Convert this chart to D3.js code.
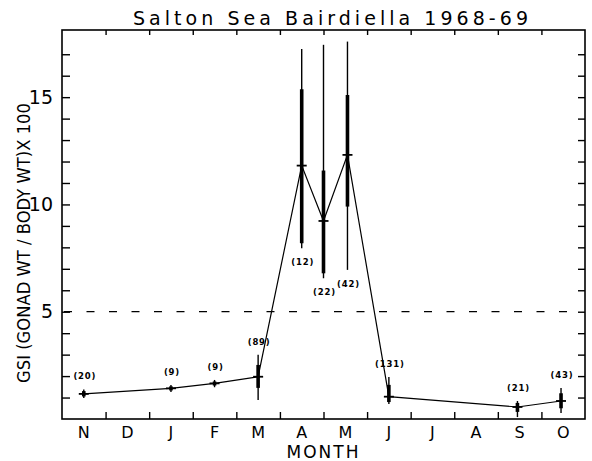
<!DOCTYPE html>
<html><head><meta charset="utf-8">
<script src="https://cdn.jsdelivr.net/npm/d3@7"></script>
<style>
html,body{margin:0;padding:0;background:#fff;}
svg{display:block;font-family:"DejaVu Sans",sans-serif;}
</style></head>
<body><svg id="c" width="592" height="461"></svg>
<script>
// ---- data ----
const months = ["N","D","J","F","M","A","M","J","J","A","S","O"];
const yTickLabels = [5, 10, 15];
const samplePos = [0.5, 2.5, 3.5, 4.5, 5.5, 6.0, 6.55, 7.5, 10.45, 11.45]; // months from 1 Nov
const sampleN  = [20, 9, 9, 89, 12, 22, 42, 131, 21, 43];
const gsiMean  = [1.17, 1.43, 1.66, 1.97, 11.81, 9.23, 12.31, 1.04, 0.56, 0.84];
const rangeLo  = [0.98, 1.26, 1.48, 0.89, 7.96, 6.56, 6.95, 0.70, 0.09, 0.28];
const rangeHi  = [1.38, 1.59, 1.82, 3.00, 17.24, 17.44, 17.59, 1.96, 0.84, 1.45];
const sdLo     = [1.05, 1.33, 1.56, 1.45, 8.19, 6.79, 9.90, 0.79, 0.33, 0.50];
const sdHi     = [1.30, 1.52, 1.75, 2.52, 15.37, 11.58, 15.10, 1.59, 0.75, 1.20];
const spawnLevel = 5;
const yMax = 18.13;

const pts = samplePos.map((p,i)=>({p, n:sampleN[i], m:gsiMean[i], rl:rangeLo[i], rh:rangeHi[i], sl:sdLo[i], sh:sdHi[i]}));

const L=62, R=585, T=30, B=419;
const svg = d3.select("#c");
const x = d3.scaleLinear().domain([0,12]).range([L,R]);
const xb = d3.scaleBand().domain(d3.range(12)).range([L,R]);
const y = d3.scaleLinear().domain([0,yMax]).range([B,T]);

// title
svg.append("text").attr("x",133).attr("y",25).attr("font-size",19)
  .attr("textLength",395).attr("lengthAdjust","spacing")
  .text("Salton Sea Bairdiella  1968-69");

// axes ticks
const gB = svg.append("g").attr("transform",`translate(0,${B})`)
  .call(d3.axisBottom(x).tickValues(d3.range(1,12)).tickSize(-7).tickFormat(""));
const gT = svg.append("g").attr("transform",`translate(0,${T})`)
  .call(d3.axisTop(x).tickValues(d3.range(1,12)).tickSize(-5).tickFormat(""));
const gL = svg.append("g").attr("transform",`translate(${L},0)`)
  .call(d3.axisLeft(y).tickValues(d3.range(1,18)).tickSize(-8).tickPadding(9)
    .tickFormat(d=>yTickLabels.includes(d)?d:""));
const gR = svg.append("g").attr("transform",`translate(${R},0)`)
  .call(d3.axisRight(y).tickValues(d3.range(1,18)).tickSize(-7).tickFormat(""));
const gM = svg.append("g").attr("transform",`translate(0,${B})`)
  .call(d3.axisBottom(xb).tickSize(0).tickPadding(8).tickFormat(i=>months[i]));
[gB,gT,gL,gR,gM].forEach(g=>{
  g.select(".domain").remove();
  g.selectAll(".tick line").attr("stroke","#000").attr("stroke-width",1.4);
  g.selectAll("text").attr("fill","#000").attr("font-family","DejaVu Sans, sans-serif");
});
gL.selectAll("text").attr("font-size",19);
gM.selectAll("text").attr("font-size",16).attr("dy","0.71em");

// frame
svg.append("rect").attr("x",L).attr("y",T).attr("width",R-L).attr("height",B-T)
  .attr("fill","none").attr("stroke","#000").attr("stroke-width",1.6);

// axis titles
svg.append("text").attr("x",323.5).attr("y",458).attr("text-anchor","middle")
  .attr("font-size",17).attr("letter-spacing",2).text("MONTH");
svg.append("text").attr("transform","translate(30,243) rotate(-90)")
  .attr("text-anchor","middle").attr("font-size",17)
  .attr("textLength",280).attr("lengthAdjust","spacingAndGlyphs")
  .text("GSI (GONAD WT / BODY WT)X 100");

// dashed spawning line
svg.append("line").attr("x1",x(0)+2).attr("x2",x(12)-10)
  .attr("y1",y(spawnLevel)).attr("y2",y(spawnLevel))
  .attr("stroke","#000").attr("stroke-width",1.3).attr("stroke-dasharray","8,14.5");

// connecting line
svg.append("path").datum(pts)
  .attr("d",d3.line().x(d=>x(d.p)).y(d=>y(d.m)))
  .attr("fill","none").attr("stroke","#000").attr("stroke-width",1.2);

const g = svg.append("g").selectAll("g").data(pts).join("g");
g.append("line").attr("x1",d=>x(d.p)).attr("x2",d=>x(d.p))
  .attr("y1",d=>y(d.rl)).attr("y2",d=>y(d.rh)).attr("stroke","#000").attr("stroke-width",1.4);
g.append("line").attr("x1",d=>x(d.p)).attr("x2",d=>x(d.p))
  .attr("y1",d=>y(d.sl)).attr("y2",d=>y(d.sh)).attr("stroke","#000").attr("stroke-width",3.6);
g.append("line").attr("x1",d=>x(d.p)-5).attr("x2",d=>x(d.p)+5)
  .attr("y1",d=>y(d.m)).attr("y2",d=>y(d.m)).attr("stroke","#000").attr("stroke-width",1.8);
g.append("text").attr("x",d=>x(d.p)+1)
  .attr("y",d=> d.m>spawnLevel ? y(d.rl)+17 : y(d.rh)-10)
  .attr("text-anchor","middle").attr("font-size",8.5).attr("font-weight","bold")
  .attr("letter-spacing",0.8)
  .text(d=>`(${d.n})`);
</script></body></html>
